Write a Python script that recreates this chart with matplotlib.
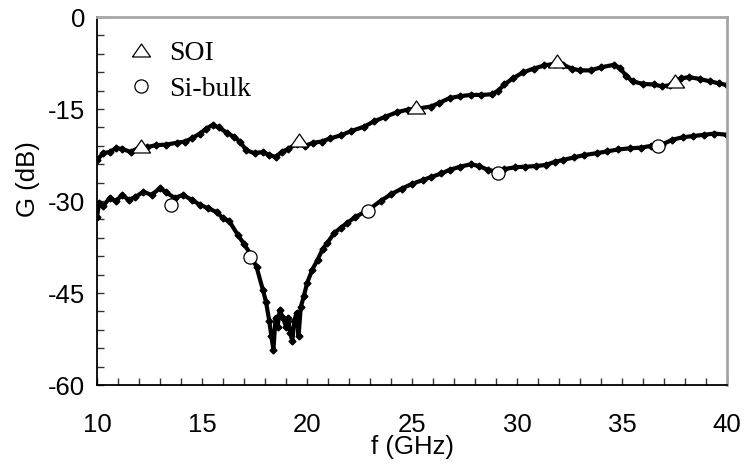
import matplotlib.pyplot as plt
from matplotlib.ticker import MultipleLocator

# SOI trace
soi_f = [10.0, 10.3, 10.6, 10.9, 11.2, 11.6, 12.0, 12.4, 12.8, 13.3, 13.8, 14.2,
         14.5, 14.9, 15.2, 15.5, 15.8, 16.2, 16.5, 16.8, 17.1, 17.5, 17.9, 18.2,
         18.5, 18.8, 19.1, 19.5, 19.9, 20.3, 20.7, 21.1, 21.6, 22.1, 22.7, 23.2,
         23.7, 24.3, 24.8, 25.3, 25.9, 26.3, 26.8, 27.3, 27.8, 28.3, 28.8, 29.1,
         29.4, 29.8, 30.3, 30.8, 31.3, 31.8, 32.2, 32.6, 33.0, 33.5, 34.0, 34.6,
         34.9, 35.2, 35.5, 36.0, 36.5, 36.9, 37.3, 37.8, 38.2, 38.7, 39.2, 39.6,
         40.0]
soi_g = [-23.3, -22.2, -22.0, -21.4, -21.5, -22.0, -21.3, -21.2, -20.9, -20.8, -20.5, -20.3,
         -19.8, -19.0, -18.2, -17.6, -18.0, -18.9, -19.5, -20.3, -21.7, -22.2, -22.0, -22.5,
         -22.8, -22.0, -21.5, -20.7, -21.0, -20.5, -20.3, -19.8, -19.3, -18.6, -17.9, -17.0,
         -16.3, -15.5, -15.1, -14.9, -14.6, -14.0, -13.2, -12.9, -12.7, -12.7, -12.6, -12.0,
         -11.0, -10.0, -9.0, -8.4, -7.9, -7.6, -7.8, -8.4, -8.7, -8.7, -8.2, -7.8,
         -8.3, -9.6, -10.5, -10.9, -11.0, -11.3, -11.1, -10.0, -9.8, -10.1, -10.5, -10.8,
         -11.1]

# Si-bulk trace
bulk_f = [10.0, 10.1, 10.3, 10.6, 10.9, 11.2, 11.5, 11.8, 12.2, 12.6, 13.0, 13.3,
          13.7, 14.1, 14.5, 14.9, 15.3, 15.7, 16.0, 16.3, 16.7, 17.0, 17.3, 17.6,
          17.9, 18.05, 18.2, 18.3, 18.4, 18.5, 18.6, 18.7, 18.85, 19.0, 19.1, 19.2,
          19.3, 19.4, 19.5, 19.6, 19.7, 19.85, 20.0, 20.25, 20.5, 20.75, 20.95, 21.3,
          21.6, 21.9, 22.3, 22.9, 23.5, 24.0, 24.5, 25.0, 25.5, 25.9, 26.4, 26.8,
          27.3, 27.8, 28.2, 28.6, 29.0, 29.4, 29.9, 30.4, 30.9, 31.4, 31.8, 32.2,
          32.7, 33.2, 33.8, 34.3, 34.8, 35.4, 35.9, 36.4, 36.9, 37.4, 37.9, 38.4,
          38.9, 39.4, 40.0]
bulk_g = [-32.6, -30.3, -30.8, -29.5, -30.0, -29.0, -29.8, -29.4, -28.5, -29.0, -27.9, -28.6,
          -29.5, -29.0, -29.8, -30.6, -31.2, -31.8, -32.8, -33.3, -35.5, -37.0, -38.6, -40.8,
          -44.5, -46.5, -49.5, -52.0, -54.3, -49.0, -50.5, -47.8, -49.0, -50.5, -49.0, -51.5,
          -52.8, -49.5, -48.2, -52.0, -47.3, -45.5, -43.4, -41.2, -39.6, -37.8, -36.9, -35.2,
          -34.4, -33.6, -32.6, -31.5, -30.0, -28.9, -28.0, -27.2, -26.6, -26.1, -25.5, -24.9,
          -24.4, -24.0, -24.3, -24.9, -25.2, -24.8, -24.5, -24.4, -24.3, -24.1, -23.6, -23.3,
          -22.9, -22.5, -22.2, -21.9, -21.6, -21.4, -21.3, -21.0, -20.8, -20.0, -19.6, -19.4,
          -19.2, -19.0, -19.2]

# sparse open symbols on each trace
soi_mark_f = [12.1, 19.6, 25.2, 31.9, 37.5]
soi_mark_g = [-21.1, -20.1, -14.7, -7.2, -10.4]
bulk_mark_f = [13.5, 17.3, 22.9, 29.1, 36.7]
bulk_mark_g = [-30.6, -39.2, -31.7, -25.4, -21.1]

TRIANGLE = [(-1, -0.72), (1, -0.72), (0, 0.72), (-1, -0.72)]


def main() -> None:
    plt.rcParams['font.family'] = ['Liberation Sans', 'DejaVu Sans']
    plt.rcParams['axes.unicode_minus'] = False
    fig = plt.figure(figsize=(7.44, 4.65), dpi=100)
    ax = fig.add_axes([0.1304, 0.172, 0.8468, 0.7914])

    for f, g in [(soi_f, soi_g), (bulk_f, bulk_g)]:
        ax.plot(f, g, color='black', lw=3, marker='D', markersize=3.5,
                solid_joinstyle='round', zorder=2)

    ax.plot(soi_mark_f, soi_mark_g, ls='none', marker=TRIANGLE, markersize=13,
            mfc='white', mec='black', mew=0.9, zorder=3, label='SOI')
    ax.plot(bulk_mark_f, bulk_mark_g, ls='none', marker='o', markersize=9.5,
            mfc='white', mec='black', mew=0.9, zorder=3, label='Si-bulk')

    ax.set_xlim(10, 40)
    ax.set_ylim(-60, 0)
    ax.xaxis.set_major_locator(MultipleLocator(5))
    ax.xaxis.set_minor_locator(MultipleLocator(1))
    ax.yaxis.set_major_locator(MultipleLocator(15))
    ax.yaxis.set_minor_locator(MultipleLocator(3))
    ax.tick_params(which='both', direction='in', length=5, width=1, color='#333333')
    ax.tick_params(axis='x', which='both', pad=20, labelsize=18.5)
    ax.tick_params(axis='y', which='both', pad=8.5, labelsize=18.5)

    for side in ['left', 'bottom']:
        ax.spines[side].set_color('black')
        ax.spines[side].set_linewidth(1.3)
    for side in ['top', 'right']:
        ax.spines[side].set_color('#a6a6a6')
        ax.spines[side].set_linewidth(2)

    ax.set_xlabel('f (GHz)', fontsize=18.5)
    ax.set_ylabel('G (dB)', fontsize=18.5)
    ax.xaxis.set_label_coords(0.5, -0.136)
    ax.yaxis.set_label_coords(-0.091, 0.56)

    ax.legend(loc='upper left', bbox_to_anchor=(0.0, 1.005), frameon=False,
              prop={'family': 'Liberation Serif', 'size': 20},
              handletextpad=0.3, labelspacing=0.4, handlelength=1.4)

    fig.savefig('out.png', dpi=100)
    plt.close(fig)


if __name__ == '__main__':
    main()
